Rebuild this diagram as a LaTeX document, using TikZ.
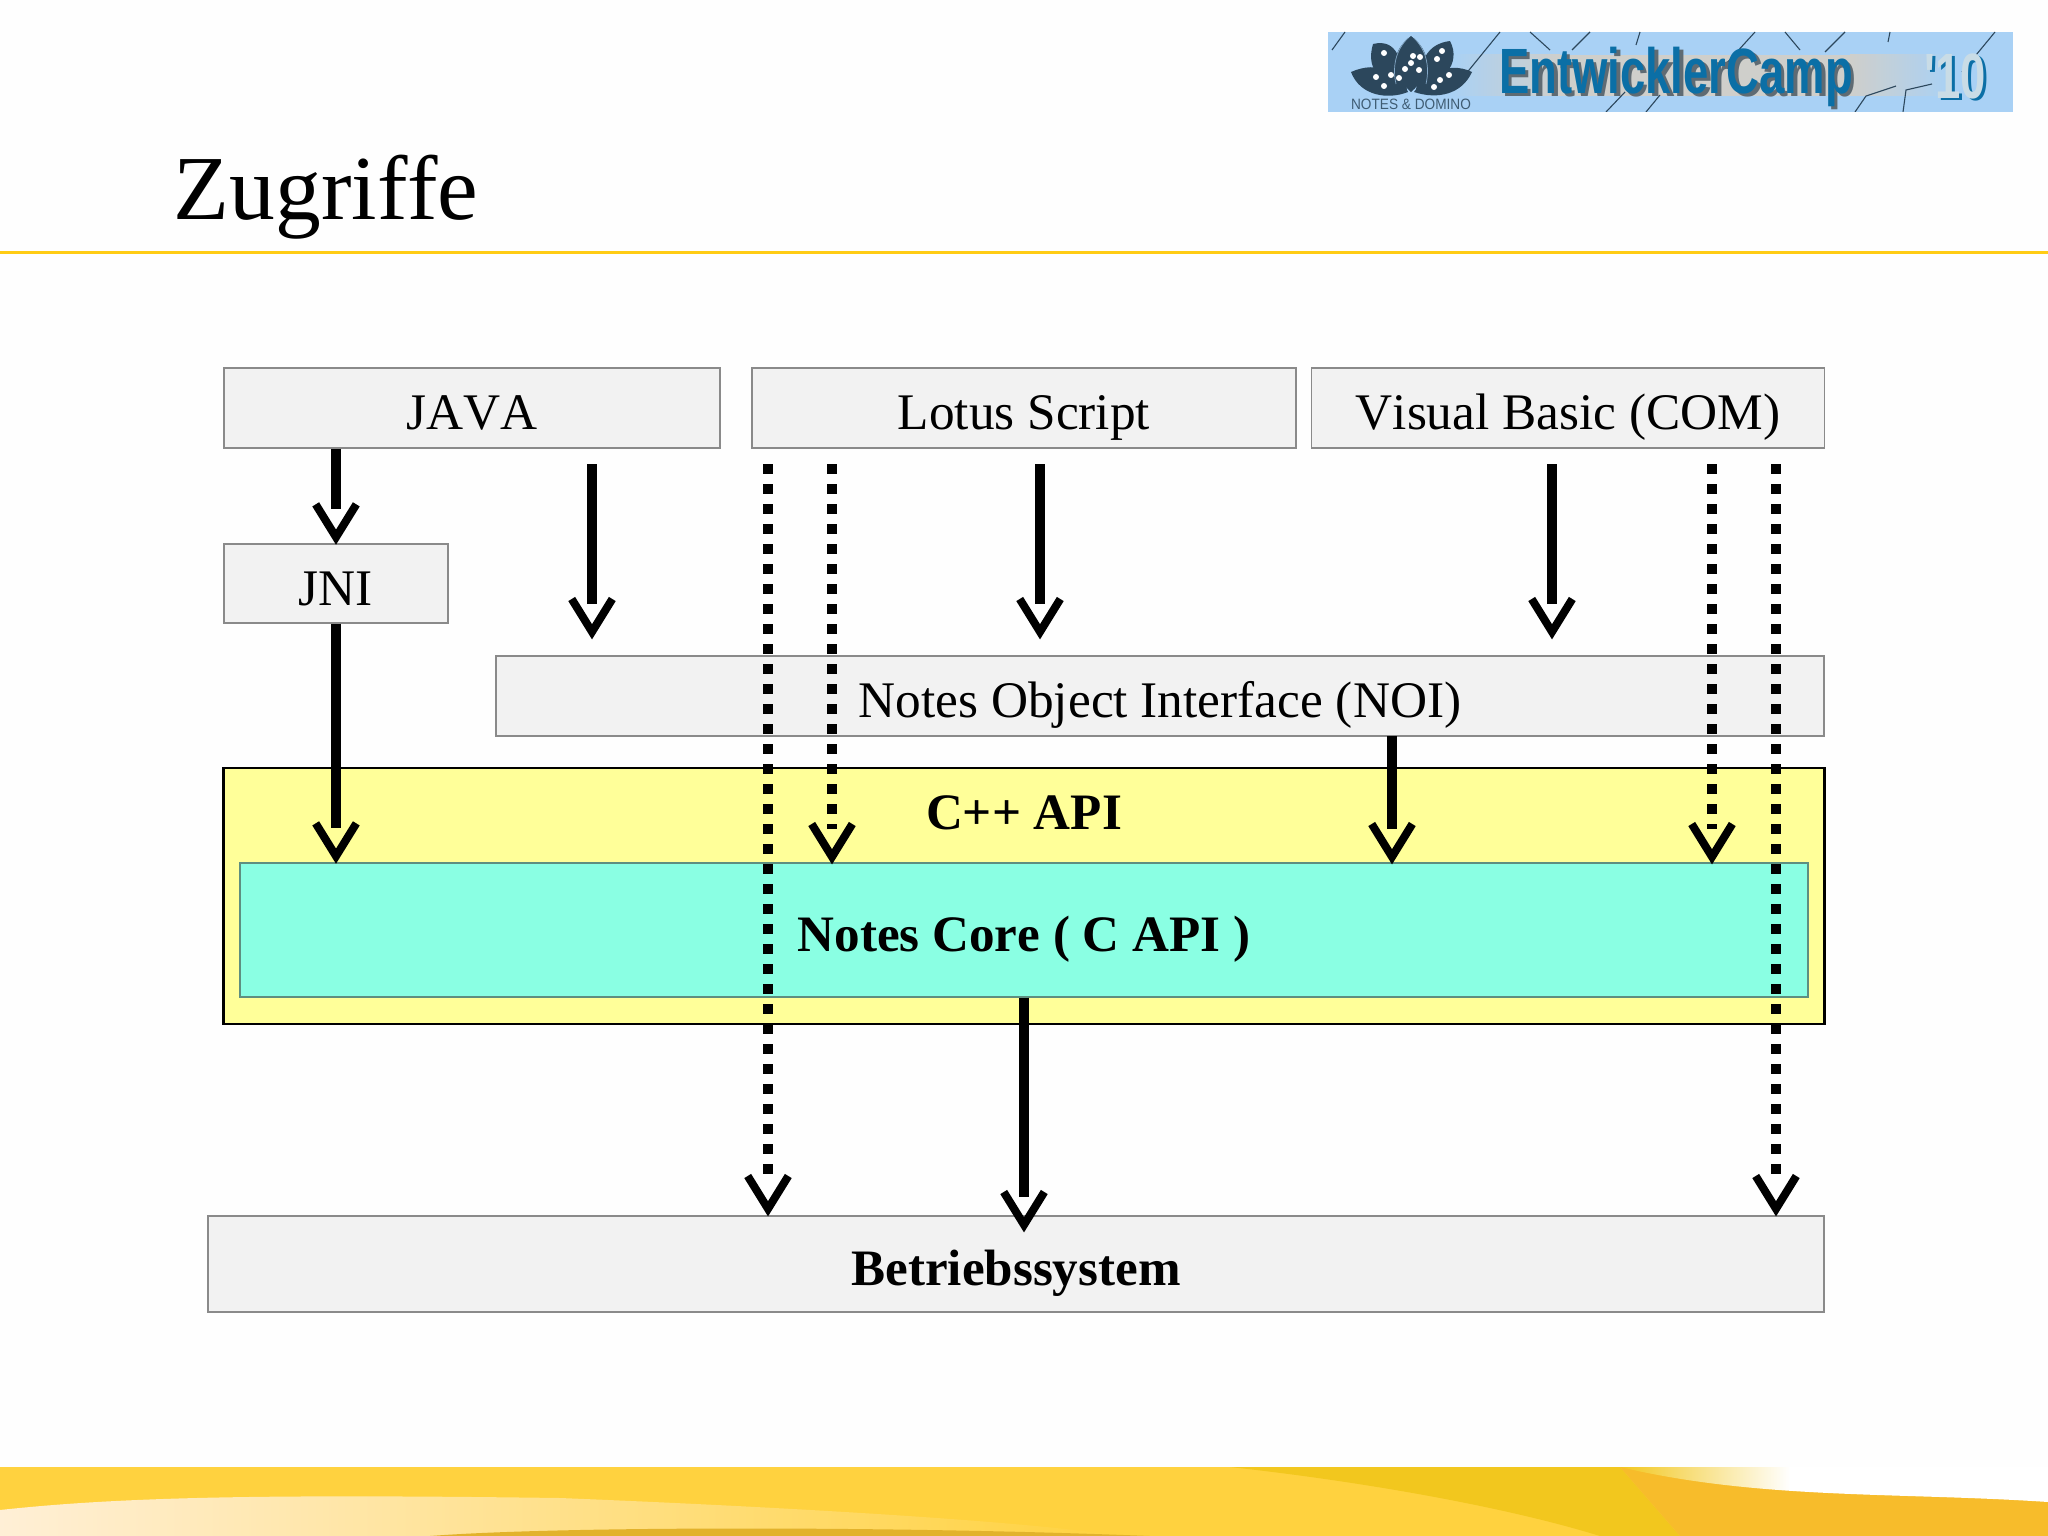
\documentclass[tikz,border=0pt]{standalone}
\usepackage{fontspec}
\setmainfont[Kerning=Off]{Liberation Serif}
\newfontfamily\logofont{Liberation Sans}
\usetikzlibrary{arrows.meta}
\definecolor{boxgray}{HTML}{F2F2F2}
\definecolor{boxline}{HTML}{8A8A8A}
\definecolor{apiyellow}{HTML}{FFFF99}
\definecolor{coregreen}{HTML}{8AFFE3}
\definecolor{coreline}{HTML}{5E8F80}
\definecolor{ruleyellow}{HTML}{FFCC14}
\definecolor{logoblue}{HTML}{A9D1F5}
\definecolor{logogray}{HTML}{CFCFCB}
\definecolor{logotext}{HTML}{0B6FA6}
\definecolor{logoshade}{HTML}{5F6B73}
\definecolor{logoyearfill}{HTML}{C9DCE6}
\definecolor{logodark}{HTML}{2C475C}
\definecolor{bandgold}{HTML}{FFD23F}
\definecolor{bandpale}{HTML}{FFEFD6}
\definecolor{banddeep}{HTML}{F2C71E}
\definecolor{bandorange}{HTML}{F7BC2B}
\definecolor{bandarc}{HTML}{E2B22C}
% open head: the shaft stops inside the V
\pgfdeclarearrow{
  name=OpenV,
  setup code={
    \pgfarrowssettipend{0pt}
    \pgfarrowssetlineend{-34pt}
    \pgfarrowssetvisualbackend{-34pt}
    \pgfarrowssetbackend{-42pt}
    \pgfarrowshullpoint{0pt}{0pt}
    \pgfarrowshullpoint{-42pt}{22pt}
    \pgfarrowshullpoint{-42pt}{-22pt}
  },
  drawing code={
    \pgfsetdash{}{0pt}
    \pgfsetlinewidth{8pt}
    \pgfsetmiterjoin
    \pgfsetbuttcap
    \pgfpathmoveto{\pgfpoint{-39pt}{20.3pt}}
    \pgfpathlineto{\pgfpoint{-6.2pt}{0pt}}
    \pgfpathlineto{\pgfpoint{-39pt}{-20.3pt}}
    \pgfusepathqstroke
  }
}
\tikzset{
  box/.style={draw=boxline,line width=1.3pt,fill=boxgray,inner sep=0pt,text height=43.5pt,text depth=0pt,
    font=\fontsize{51.3}{60}\selectfont},
  boldbox/.style={box,font=\fontsize{51.1}{60}\selectfont\bfseries},
  solidarrow/.style={line width=10.5pt,-OpenV},
  dotarrow/.style={solidarrow,dash pattern=on 10pt off 10pt},
  petal/.style={fill=logodark},
  petaldot/.style={fill=white,radius=3pt},
  crack/.style={draw=logodark,line width=1.1pt},
  logotxt/.style={font=\logofont\bfseries\fontsize{64}{76}\selectfont,xscale=.71,transform shape},
}
\begin{document}
\begin{tikzpicture}[x=1pt,y=-1pt]
\useasboundingbox (0,0) rectangle (2048,1536);
\fill[white!99.5!black] (0,0) rectangle (2048,1536);

% bottom band
\fill[bandgold] (0,1467) rectangle (2048,1536);
\shade[left color=bandpale,right color=bandgold]
  (0,1510) .. controls (120,1497) and (260,1494) .. (560,1498) .. controls (760,1506) and (1020,1520) .. (1120,1536) -- (0,1536) -- cycle;
\fill[banddeep] (1230,1467) -- (1620,1467) -- (1680,1536) -- (1600,1536) .. controls (1500,1505) and (1350,1480) .. (1230,1467) -- cycle;
\fill[bandorange] (1620,1467) -- (2048,1467) -- (2048,1536) -- (1680,1536) -- cycle;
\begin{scope}
\clip (1620,1467) -- (2048,1467) -- (2048,1502) .. controls (1900,1492) and (1760,1500) .. (1620,1467) -- cycle;
\shade[left color=banddeep,right color=white] (1620,1467) rectangle (1790,1510);
\fill[white] (1790,1467) rectangle (2048,1510);
\end{scope}
\fill[bandarc] (430,1536) .. controls (560,1526) and (900,1526) .. (1150,1536) -- cycle;

% logo
\begin{scope}
\clip (1328,32) rectangle (2013,112);
\fill[logoblue] (1328,32) rectangle (2013,112);
\shade[left color=logoblue,right color=logogray] (1450,55) rectangle (1560,96);
\fill[logogray] (1560,55) rectangle (1850,96);
\shade[left color=logogray,right color=logoblue] (1850,55) rectangle (1950,96);
\foreach \ax/\ay/\bx/\by in {1345/32/1332/50,1500/32/1465/75,1530/32/1550/50,1590/32/1572/50,
  1640/32/1636/45,1755/32/1725/65,1785/32/1800/50,1845/32/1825/52,1890/32/1888/42,1995/32/1962/72,
  1625/92/1606/112,1660/95/1646/112}
  \draw[crack] (\ax,\ay) -- (\bx,\by);
\draw[crack] (1855,112) -- (1866,96) -- (1896,86);
\draw[crack] (1903,112) -- (1906,90) -- (1932,84);
\fill[petal] (1411,36) .. controls (1432,52) and (1432,74) .. (1411,92) .. controls (1390,74) and (1390,52) .. (1411,36) -- cycle;
\fill[petal] (1373,44) .. controls (1398,38) and (1402,62) .. (1407,90) .. controls (1378,82) and (1366,68) .. (1373,44) -- cycle;
\fill[petal] (1450,41) .. controls (1462,64) and (1442,84) .. (1416,90) .. controls (1420,62) and (1426,44) .. (1450,41) -- cycle;
\fill[petal] (1351,72) .. controls (1378,60) and (1400,72) .. (1408,92) .. controls (1388,100) and (1360,96) .. (1351,72) -- cycle;
\fill[petal] (1472,72) .. controls (1447,60) and (1425,76) .. (1414,92) .. controls (1438,100) and (1462,94) .. (1472,72) -- cycle;
\draw[logoblue!70!logodark,line width=.7pt] (1396,84) .. controls (1392,66) and (1396,50) .. (1408,38);
\draw[logoblue!70!logodark,line width=.7pt] (1426,84) .. controls (1430,66) and (1426,50) .. (1414,38);
\foreach \dx/\dy in {1384/53,1391/75,1376/77,1384/86,1399/78,1413/56,1420/57,1411/63,1405/69,1419/70,
  1442/51,1437/59,1449/75,1440/80,1434/87}
  \fill[petaldot] (\dx,\dy) circle[];
\node[text=logodark!85!logoblue,font=\logofont\fontsize{15}{18}\selectfont,xscale=.91,transform shape] (logodomino) at (1411,104) {NOTES \& DOMINO};
\node[text=logoshade,logotxt] (logoshadow) at (1679.5,79.5) {EntwicklerCamp};
\node[text=logotext,logotxt] (logoname) at (1676,77) {EntwicklerCamp};
\node[text=logotext,logotxt] (logoyearedge) at (1958,78) {'10};
\node[text=logoyearfill,logotxt] (logoyear) at (1955,76) {'10};
\end{scope}

% title and rule
\node[anchor=base west,inner sep=0pt,font=\fontsize{91.5}{104}\selectfont] (title) at (173.5,219) {Zugriffe};
\fill[ruleyellow] (0,250.5) rectangle (2048,253.5);

% boxes
\node[box,minimum width=496pt,minimum height=80pt] (java) at (472,408) {JAVA};
\node[box,minimum width=544pt,minimum height=80pt] (lotus) at (1024,408) {Lotus Script};
\node[box,minimum width=513pt,minimum height=80pt] (vb) at (1568,408) {Visual Basic (COM)};
\node[box,minimum width=224pt,minimum height=79pt] (jni) at (336,583.5) {JNI};
\node[box,minimum width=1328pt,minimum height=80pt] (noi) at (1160,696) {Notes Object Interface (NOI)};
\node[draw=black,line width=2.2pt,fill=apiyellow,minimum width=1601pt,minimum height=256pt,inner sep=0pt] (api) at (1024,896) {};
\node[anchor=base,inner sep=0pt,font=\fontsize{51.1}{60}\selectfont\bfseries] (apilabel) at (1024,829) {C++ API};
\node[boldbox,draw=coreline,fill=coregreen,minimum width=1568pt,minimum height=134pt] (core) at (1024,930) {Notes Core ( C API )};
\node[boldbox,minimum width=1616pt,minimum height=96pt] (os) at (1016,1264) {Betriebssystem};

% free ends of the connectors
\coordinate (s1) at (592,464);
\coordinate (t1) at (592,638);
\coordinate (s2) at (1040,464);
\coordinate (t2) at (1040,638);
\coordinate (s3) at (1552,464);
\coordinate (t3) at (1552,638);
\coordinate (s4) at (768,464);
\coordinate (t4) at (768,1215);
\coordinate (s5) at (832,464);
\coordinate (t5) at (832,863);
\coordinate (s6) at (1712,464);
\coordinate (t6) at (1712,863);
\coordinate (s7) at (1776,464);
\coordinate (t7) at (1776,1215);
\coordinate (s8) at (1392,736);
\coordinate (t8) at (1392,863);
\coordinate (t9) at (1024,1231);

% connectors
\draw[solidarrow] (jni.north |- java.south) -- (jni.north);
\draw[solidarrow] (jni.south) -- (jni.south |- core.north);
\draw[solidarrow] (s1) -- (t1);
\draw[solidarrow] (s2) -- (t2);
\draw[solidarrow] (s3) -- (t3);
\draw[solidarrow] (s8) -- (t8);
\draw[solidarrow] (core.south) -- (t9);
\draw[dotarrow] (s4) -- (t4);
\draw[dotarrow] (s5) -- (t5);
\draw[dotarrow] (s6) -- (t6);
\draw[dotarrow] (s7) -- (t7);
\end{tikzpicture}
\end{document}
